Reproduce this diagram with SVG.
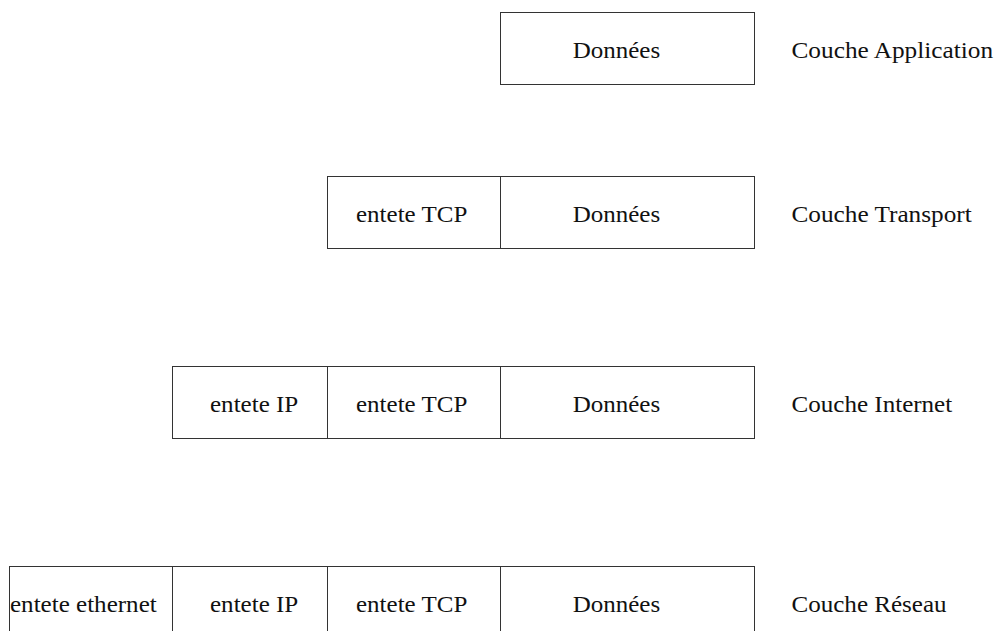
<svg xmlns="http://www.w3.org/2000/svg" width="999" height="631" viewBox="0 0 999 631">
<style>
rect.cell{fill:#fff;stroke:#333;stroke-width:1}
text{font-family:'Liberation Serif','DejaVu Serif',serif;font-size:24px;fill:#111}
</style>
<rect x="0" y="0" width="999" height="631" fill="#fff"/>
<g id="row-application">
  <g id="app-donnees"><rect class="cell" x="500.5" y="12.5" width="254" height="72"/><text x="572.7" y="58.3" textLength="87.5" lengthAdjust="spacingAndGlyphs">Données</text></g>
  <g id="app-label"><text x="791.5" y="58.3" textLength="201.6" lengthAdjust="spacingAndGlyphs">Couche Application</text></g>
</g>
<g id="row-transport">
  <g id="tr-tcp"><rect class="cell" x="327.5" y="176.5" width="173" height="72"/><text x="356" y="222" textLength="111.3" lengthAdjust="spacingAndGlyphs">entete TCP</text></g>
  <g id="tr-donnees"><rect class="cell" x="500.5" y="176.5" width="254" height="72"/><text x="572.7" y="222" textLength="87.5" lengthAdjust="spacingAndGlyphs">Données</text></g>
  <g id="tr-label"><text x="791.5" y="222" textLength="180.2" lengthAdjust="spacingAndGlyphs">Couche Transport</text></g>
</g>
<g id="row-internet">
  <g id="in-ip"><rect class="cell" x="172.5" y="366.5" width="155" height="72"/><text x="210" y="412" textLength="88.3" lengthAdjust="spacingAndGlyphs">entete IP</text></g>
  <g id="in-tcp"><rect class="cell" x="327.5" y="366.5" width="173" height="72"/><text x="356" y="412" textLength="111.3" lengthAdjust="spacingAndGlyphs">entete TCP</text></g>
  <g id="in-donnees"><rect class="cell" x="500.5" y="366.5" width="254" height="72"/><text x="572.7" y="412" textLength="87.5" lengthAdjust="spacingAndGlyphs">Données</text></g>
  <g id="in-label"><text x="791.5" y="412" textLength="160.7" lengthAdjust="spacingAndGlyphs">Couche Internet</text></g>
</g>
<g id="row-reseau">
  <g id="re-eth"><rect class="cell" x="9.5" y="566.5" width="163" height="72"/><text x="10" y="612" textLength="146.7" lengthAdjust="spacingAndGlyphs">entete ethernet</text></g>
  <g id="re-ip"><rect class="cell" x="172.5" y="566.5" width="155" height="72"/><text x="210" y="612" textLength="88.3" lengthAdjust="spacingAndGlyphs">entete IP</text></g>
  <g id="re-tcp"><rect class="cell" x="327.5" y="566.5" width="173" height="72"/><text x="356" y="612" textLength="111.3" lengthAdjust="spacingAndGlyphs">entete TCP</text></g>
  <g id="re-donnees"><rect class="cell" x="500.5" y="566.5" width="254" height="72"/><text x="572.7" y="612" textLength="87.5" lengthAdjust="spacingAndGlyphs">Données</text></g>
  <g id="re-label"><text x="791.5" y="612" textLength="155.1" lengthAdjust="spacingAndGlyphs">Couche Réseau</text></g>
</g>
</svg>
